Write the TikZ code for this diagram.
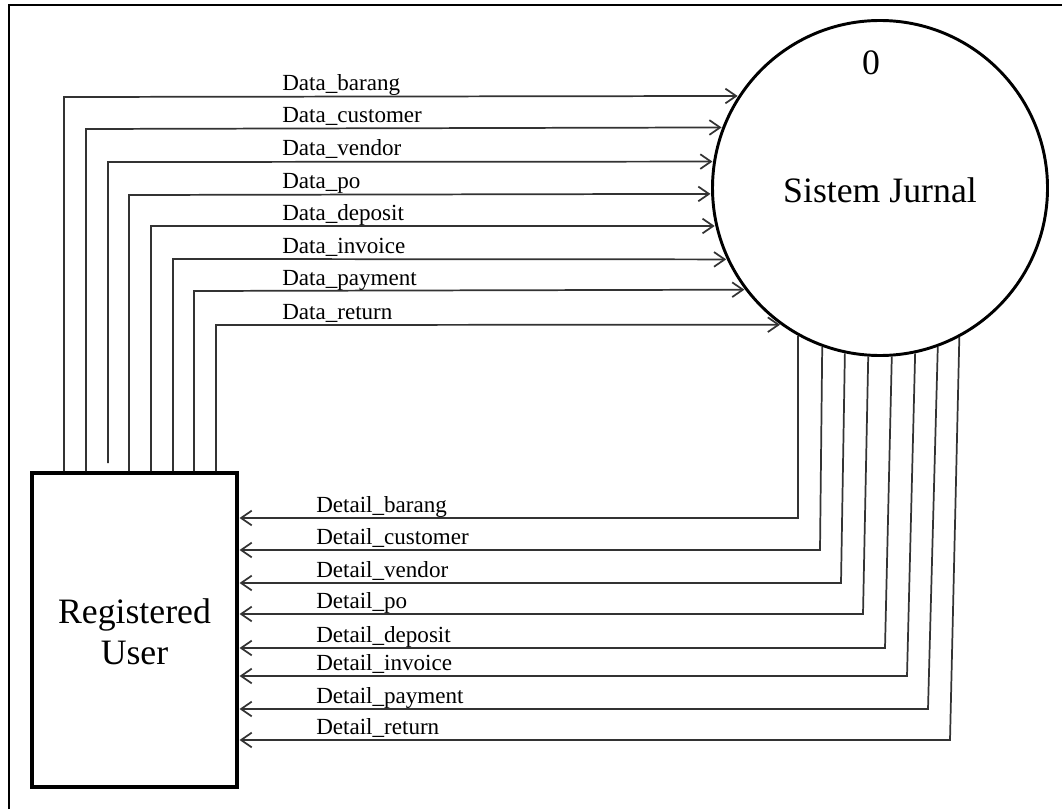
\documentclass[tikz,border=0pt]{standalone}
\usepackage{fontspec}
\setmainfont{Liberation Serif}
\usetikzlibrary{arrows.meta}
\begin{document}
\begin{tikzpicture}[x=0.75pt,y=-0.75pt,
  flow/.style={draw=black!80, line width=1.3pt,
    -{Straight Barb[length=8pt,width=11pt]}, shorten >=0.5pt},
  lbl/.style={inner sep=0pt, anchor=base west, font=\fontsize{17.3}{20}\selectfont},
  big/.style={inner sep=0pt, align=center, font=\fontsize{26.8}{31}\selectfont},
  entity/.style={draw, line width=2.8pt, minimum width=153.75pt, minimum height=235.5pt, inner sep=0pt},
  process/.style={circle, draw, line width=2.2pt, minimum size=251.25pt, inner sep=0pt}]
\useasboundingbox (0,0) rectangle (1062,809);

% frame
\draw[line width=2.2pt] (9,809) -- (9,5) -- (1062,5);

% external entity and process
\node[entity] (user) at (134.5,630) {};
\node[big] (userlbl) at (134.5,632) {Registered\\User};
\node[process] (sys) at (880,188) {};
\node[big] (num) at (871,63) {0};
\node[big] (syslbl) at (880,190) {Sistem Jurnal};

% flows from the user into the system
\foreach \name/\x/\y/\gap in {barang/64/97/0, customer/86/129/0, vendor/108/162/8,
    po/129/195/0, deposit/151/226/0, invoice/173/259/0, payment/194/291/0, return/216/325/0}{
  \pgfmathsetmacro\th{180-asin((188-\y)/167.5)}
  \draw[flow] ([yshift=\gap*0.75pt]user.north -| \x,0) -- (\x,\y) -- (sys.\th);
  \node[lbl] (in-\name) at (282,\y-6) {Data\_\name};
}

% flows from the system back to the user
\foreach \name/\xt/\xb/\y in {barang/800/798/518, customer/823/820/550, vendor/846/841/583,
    po/869/863/614, deposit/893/885/648, invoice/916/907/676, payment/938/928/709, return/960/950/740}{
  \pgfmathsetmacro\th{360-acos((\xt-880)/167.5)}
  \draw[flow] (sys.\th) -- (\xb,\y) -- (user.east |- 0,\y);
  \node[lbl] (out-\name) at (316,\y-6) {Detail\_\name};
}
\end{tikzpicture}
\end{document}
